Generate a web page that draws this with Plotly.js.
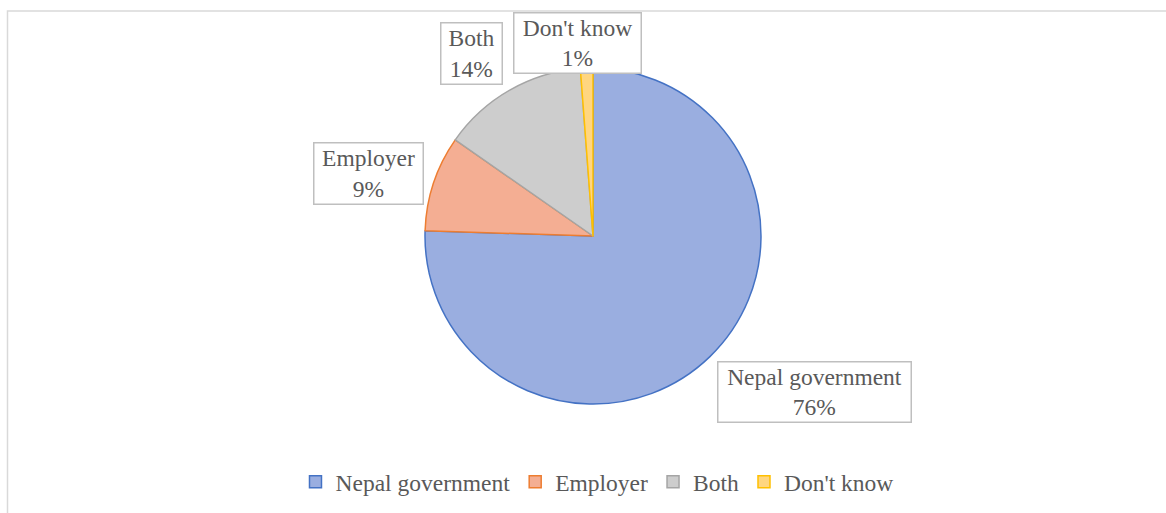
<!DOCTYPE html>
<html>
<head>
<meta charset="utf-8">
<script src="https://cdn.plot.ly/plotly-3.0.1.min.js"></script>
<style>html,body{margin:0;padding:0;background:#fff;}#chart{width:1166px;height:513px;}</style>
</head>
<body>
<div id="chart"></div>
<script>
// Data
const categories = ['Nepal government', 'Employer', 'Both', "Don't know"];
const values = [75.5, 9.2, 14.1, 1.2];

// Styles
const fillColors = ['#9aaee0', '#f4ae93', '#cdcdcd', '#ffd680'];
const lineColors = ['#4472c4', '#ed7d31', '#a5a5a5', '#ffc000'];
const W = 1166, H = 513;
const fontFamily = 'Times New Roman, Liberation Serif, DejaVu Serif, serif';
const textColor = '#595959';

// Label boxes (pixel centers and box sizes)
const labelBoxes = [
  {cx: 814.5, cy: 392, w: 195, h: 62},
  {cx: 368.5, cy: 173.5, w: 111, h: 63},
  {cx: 471.5, cy: 53.5, w: 63, h: 63},
  {cx: 577.5, cy: 43, w: 129, h: 62}
];

const total = values.reduce((a, b) => a + b, 0);
const annotations = categories.map((c, i) => {
  const b = labelBoxes[i];
  return {
    xref: 'paper', yref: 'paper',
    x: b.cx / W, y: 1 - b.cy / H,
    xanchor: 'center', yanchor: 'middle',
    text: c + '<br>' + Math.round(values[i] / total * 100) + '%',
    showarrow: false,
    font: {family: fontFamily, size: 23.5, color: textColor},
    align: 'center',
    bgcolor: '#ffffff',
    bordercolor: '#bfbfbf',
    borderwidth: 1.5,
    borderpad: 0,
    width: b.w - 3,
    height: b.h - 3
  };
});

const trace = {
  type: 'pie',
  labels: categories,
  values: values,
  sort: false,
  direction: 'clockwise',
  rotation: 0,
  textinfo: 'none',
  hoverinfo: 'label+percent',
  marker: {colors: fillColors, line: {color: lineColors, width: 1.5}},
  domain: {x: [425 / W, 761 / W], y: [1 - 404 / H, 1 - 68 / H]}
};

const layout = {
  width: W, height: H,
  margin: {l: 0, r: 0, t: 0, b: 0},
  paper_bgcolor: '#ffffff',
  font: {family: fontFamily, color: textColor},
  showlegend: true,
  legend: {
    orientation: 'h',
    x: 0.512, xanchor: 'center',
    y: 1 - 482 / H, yanchor: 'middle',
    font: {family: fontFamily, size: 23.5, color: textColor},
    itemclick: false
  },
  annotations: annotations,
  shapes: [{
    type: 'rect', xref: 'paper', yref: 'paper',
    x0: 7.5 / W, x1: 1.02, y0: -0.02, y1: 1 - 11 / H,
    line: {color: '#d9d9d9', width: 1.5},
    fillcolor: 'rgba(0,0,0,0)',
    layer: 'below'
  }]
};

Plotly.newPlot('chart', [trace], layout, {staticPlot: true});
</script>
</body>
</html>
